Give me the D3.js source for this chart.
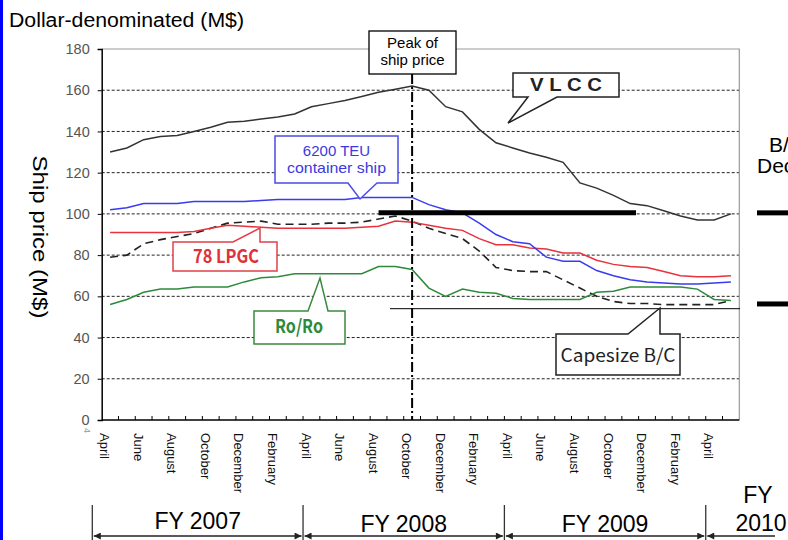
<!DOCTYPE html>
<html><head><meta charset="utf-8">
<script src="https://cdn.jsdelivr.net/npm/d3@7"></script>
<style>body{margin:0;background:#fff;overflow:hidden}svg{display:block}</style>
</head><body>
<svg id="c" width="788" height="540"></svg>
<script>
// ---- data ----
const months = ["2007-04","2007-05","2007-06","2007-07","2007-08","2007-09","2007-10","2007-11","2007-12","2008-01","2008-02","2008-03",
  "2008-04","2008-05","2008-06","2008-07","2008-08","2008-09","2008-10","2008-11","2008-12","2009-01","2009-02","2009-03",
  "2009-04","2009-05","2009-06","2009-07","2009-08","2009-09","2009-10","2009-11","2009-12","2010-01","2010-02","2010-03",
  "2010-04","2010-05"];
const tickLabels = ["April","June","August","October","December","February",
  "April","June","August","October","December","February",
  "April","June","August","October","December","February","April"];
const yTicks = [0,20,40,60,80,100,120,140,160,180];
const vlcc     = [130,132,136,137.5,138,140,142,144.5,145,146,147,148.5,152,153.5,155,157,159,160.5,162,
                  160,152,149.5,141,134.5,132,129.5,127.5,125,115,112.5,109,105,104,101.5,99,97,97,100];
const teu6200  = [102,103,105,105,105,106,106,106,106,106.5,107,107,107,107,107,108,108,108,108,
                  104.5,102,100.5,95.5,90,86.5,85.5,79,77,77,72.5,70,68,67,66.5,66,66,66.5,67];
const lpgc78   = [91,91,91,91,91,91.5,93,94.5,94,93.5,93,93,93,93,93,93.5,94,96.5,96,
                  94.5,93,92,88,85,85,83.5,83,81,81,77.5,75.5,74.5,74,72,70,69.5,69.5,70];
const capesize = [79,80,85.5,87.5,89,90.5,93,95.5,96,96.5,95,95,95,95.5,95.5,96,97.5,99,96.5,
                  93,90.5,88,82,74,72.5,72,72,68,64,60,57.5,56.5,56.5,56,56,56,56,58];
const roro     = [56,58.5,62,63.5,63.5,64.5,64.5,64.5,67,69,69.5,71,71,71,71,71,74.5,74.5,73,
                  64,60,63.5,62,61.5,59,58.5,58.5,58.5,58.5,62,62.5,64.5,64.5,64.5,64.5,63.5,58.5,58];
const fyLabels = ["FY 2007","FY 2008","FY 2009"];

// ---- chart ----
const FONT = "Liberation Sans, Arial, sans-serif";
const svg = d3.select("#c");
const x = d3.scaleBand().domain(months).range([101.7, 739.3]);
const y = d3.scaleLinear().domain([0,180]).range([420, 49]);
const cx = m => x(m) + x.bandwidth()/2;

svg.append("rect").attr("x",0).attr("y",0).attr("width",3).attr("height",540).attr("fill","#0000ff");

// grid
svg.append("g").selectAll("line").data(yTicks.filter(v => v > 0 && v < 180)).join("line")
  .attr("x1",101.7).attr("x2",739.3).attr("y1",d=>y(d)).attr("y2",d=>y(d))
  .attr("stroke","#222").attr("stroke-width",1).attr("stroke-dasharray","3,2");
// top/right border
svg.append("path").attr("d",`M101.7,${y(180)}H739.3V${y(0)}`).attr("fill","none").attr("stroke","#999").attr("stroke-width",1.2);

// y axis
const ya = svg.append("g").attr("transform","translate(101.7,0)")
  .call(d3.axisLeft(y).tickValues(yTicks).tickSize(4).tickPadding(8));
ya.select(".domain").attr("stroke","#000").attr("stroke-width",1.5);
ya.selectAll(".tick line").attr("stroke","#000");
ya.selectAll("text").attr("font-family",FONT).attr("font-size",14.5).attr("fill","#555");

// x axis
svg.append("line").attr("x1",101.7).attr("x2",739.3).attr("y1",y(0)).attr("y2",y(0)).attr("stroke","#000").attr("stroke-width",1.5);
svg.append("g").selectAll("line").data(months.slice(1)).join("line")
  .attr("x1",d=>x(d)).attr("x2",d=>x(d)).attr("y1",y(0)).attr("y2",y(0)-4).attr("stroke","#000");
svg.append("g").selectAll("text").data(tickLabels).join("text")
  .attr("transform",(d,i)=>`translate(${x(months[i*2])+3},433) rotate(90)`)
  .attr("dominant-baseline","central").attr("font-family",FONT).attr("font-size",13).attr("fill","#111")
  .text(d=>d);
svg.append("text").attr("transform","translate(87,428) rotate(90)").attr("dominant-baseline","central")
  .attr("font-family",FONT).attr("font-size",9).attr("fill","#999").text("4");

// series
const line = d3.line().x((d,i)=>cx(months[i])).y(d=>y(d));
const series = [
  {v:capesize, c:"#222", w:1.6, dash:"8,5"},
  {v:lpgc78,   c:"#e8323c", w:1.5},
  {v:teu6200,  c:"#3a3af0", w:1.5},
  {v:roro,     c:"#2e8a3a", w:1.5},
  {v:vlcc,     c:"#333",    w:1.5}
];
svg.append("g").selectAll("path").data(series).join("path")
  .attr("d",d=>line(d.v)).attr("fill","none").attr("stroke",d=>d.c).attr("stroke-width",d=>d.w)
  .attr("stroke-dasharray",d=>d.dash||null);

// annotation lines
svg.append("line").attr("x1",cx("2008-08")).attr("x2",636).attr("y1",y(100.5)).attr("y2",y(100.5)).attr("stroke","#000").attr("stroke-width",5);
svg.append("line").attr("x1",390).attr("x2",740).attr("y1",y(54)).attr("y2",y(54)).attr("stroke","#000").attr("stroke-width",1);
svg.append("line").attr("x1",757).attr("x2",788).attr("y1",y(100.5)).attr("y2",y(100.5)).attr("stroke","#000").attr("stroke-width",5);
svg.append("line").attr("x1",757).attr("x2",788).attr("y1",y(56.3)).attr("y2",y(56.3)).attr("stroke","#000").attr("stroke-width",5);
const px = cx("2008-10");
svg.append("line").attr("x1",px).attr("x2",px).attr("y1",74).attr("y2",y(0)).attr("stroke","#000").attr("stroke-width",2).attr("stroke-dasharray","10,3,2,3");

// peak box
svg.append("rect").attr("x",369).attr("y",31).attr("width",87).attr("height",43).attr("fill","#fff").attr("stroke","#000").attr("stroke-width",1.3);
svg.append("text").attr("x",412.5).attr("y",48).attr("text-anchor","middle").attr("font-family",FONT).attr("font-size",15).text("Peak of");
svg.append("text").attr("x",412.5).attr("y",65).attr("text-anchor","middle").attr("font-family",FONT).attr("font-size",15).text("ship price");

// callouts
function callout(d, stroke){
  svg.append("path").attr("d",d).attr("fill","#fff").attr("stroke",stroke).attr("stroke-width",1.5);
}
callout("M513,73H619V97H557L508,123L528,97H513Z","#222");
svg.append("text").attr("x",566).attr("y",91).attr("text-anchor","middle").attr("font-family",FONT).attr("font-weight","bold")
  .attr("font-size",18).attr("textLength",72).attr("lengthAdjust","spacingAndGlyphs").attr("fill","#222").text("V L C C");

callout("M275,136H398V183H377L360,199L348,183H275Z","#4b4be6");
svg.append("text").attr("x",336.5).attr("y",156).attr("text-anchor","middle").attr("font-family",FONT).attr("font-size",15).attr("fill","#3a3ae0").text("6200 TEU");
svg.append("text").attr("x",336.5).attr("y",173).attr("text-anchor","middle").attr("font-family",FONT).attr("font-size",15)
  .attr("textLength",99).attr("lengthAdjust","spacingAndGlyphs").attr("fill","#3a3ae0").text("container ship");

callout("M173,242H233L260,228V242H277V271H173Z","#e04048");
svg.append("text").attr("x",226).attr("y",263).attr("text-anchor","middle").attr("font-family","Noto Sans CJK JP, sans-serif").attr("font-weight","bold")
  .attr("font-size",19).attr("textLength",66).attr("lengthAdjust","spacingAndGlyphs").attr("fill","#e0303a").text("78 LPGC");

callout("M254,311H308L320,278L328,311H345V344H254Z","#3a8a3a");
svg.append("text").attr("x",299).attr("y",333).attr("text-anchor","middle").attr("font-family","Noto Sans CJK JP, sans-serif").attr("font-weight","bold")
  .attr("font-size",19).attr("textLength",48).attr("lengthAdjust","spacingAndGlyphs").attr("fill","#2e8a3a").text("Ro/Ro");

callout("M556,334H628L660,308V334H680V375H556Z","#222");
svg.append("text").attr("x",618).attr("y",362).attr("text-anchor","middle").attr("font-family","Noto Sans CJK JP, sans-serif")
  .attr("font-size",18).attr("textLength",115).attr("lengthAdjust","spacingAndGlyphs").attr("fill","#222").text("Capesize B/C");

// titles
svg.append("text").attr("x",9).attr("y",27).attr("font-family",FONT).attr("font-size",20)
  .attr("textLength",235).attr("lengthAdjust","spacingAndGlyphs").text("Dollar-denominated (M$)");
svg.append("text").attr("transform","translate(40,237) rotate(90)").attr("text-anchor","middle").attr("dominant-baseline","central")
  .attr("font-family",FONT).attr("font-size",21).attr("textLength",163).attr("lengthAdjust","spacingAndGlyphs").text("Ship price (M$)");
svg.append("text").attr("x",769).attr("y",152).attr("font-family",FONT).attr("font-size",21).text("B/C");
svg.append("text").attr("x",757).attr("y",173).attr("font-family",FONT).attr("font-size",21).text("December");

// FY brackets
const defs = svg.append("defs");
defs.append("marker").attr("id","ah").attr("viewBox","0 0 10 10").attr("refX",10).attr("refY",5)
  .attr("markerWidth",9).attr("markerHeight",7).attr("markerUnits","userSpaceOnUse").attr("orient","auto-start-reverse")
  .append("path").attr("d","M0,0L10,5L0,10Z").attr("fill","#222");
const fyX = [92.3, x("2008-04"), x("2009-04"), x("2010-04")];
svg.append("g").selectAll("line").data(fyX).join("line")
  .attr("x1",d=>d).attr("x2",d=>d).attr("y1",505).attr("y2",540).attr("stroke","#333").attr("stroke-width",1.3);
const segs = [[fyX[0],fyX[1]],[fyX[1],fyX[2]],[fyX[2],fyX[3]]];
svg.append("g").selectAll("line").data(segs).join("line")
  .attr("x1",d=>d[0]+1.5).attr("x2",d=>d[1]-1.5).attr("y1",536).attr("y2",536).attr("stroke","#222").attr("stroke-width",1.3)
  .attr("marker-start","url(#ah)").attr("marker-end","url(#ah)");
svg.append("line").attr("x1",fyX[3]+1.5).attr("x2",775).attr("y1",536).attr("y2",536).attr("stroke","#222").attr("stroke-width",1.3)
  .attr("marker-start","url(#ah)");
const fyBase = [529, 532, 532];
svg.append("g").selectAll("text").data(fyLabels).join("text")
  .attr("x",(d,i)=>(segs[i][0]+segs[i][1])/2).attr("y",(d,i)=>fyBase[i]).attr("text-anchor","middle")
  .attr("font-family",FONT).attr("font-size",23).text(d=>d);
svg.append("text").attr("x",758).attr("y",503).attr("text-anchor","middle").attr("font-family",FONT).attr("font-size",23).text("FY");
svg.append("text").attr("x",761).attr("y",531).attr("text-anchor","middle").attr("font-family",FONT).attr("font-size",23).text("2010");
</script>
</body></html>
